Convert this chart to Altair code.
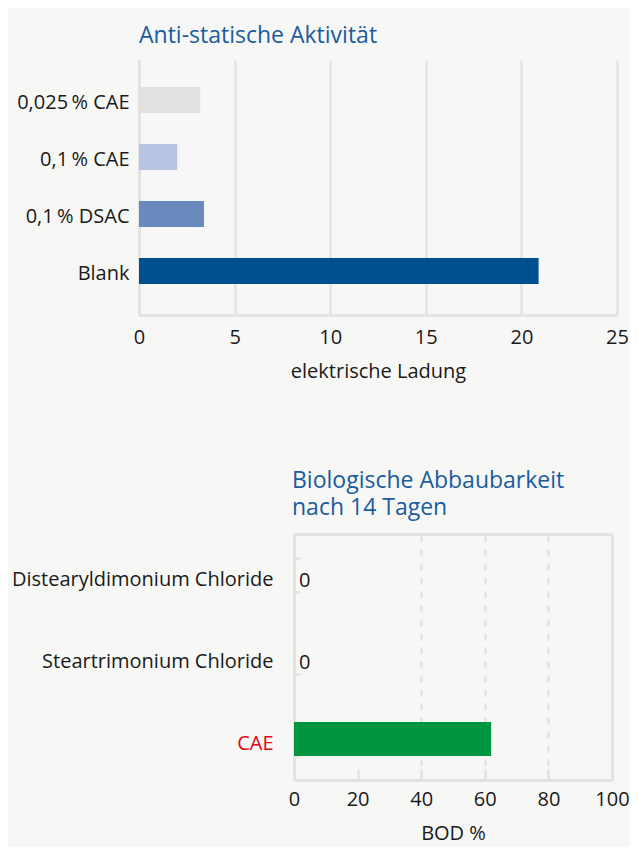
import altair as alt
import pandas as pd

# ---- data: chart 1 ----
cats1 = ["0,025\u2009% CAE", "0,1\u2009% CAE", "0,1\u2009% DSAC", "Blank"]
vals1 = [3.2, 2.0, 3.4, 20.9]
colors1 = ["#e1e1df", "#b8c4e1", "#6a8abe", "#004f91"]
ticks1 = [0, 5, 10, 15, 20, 25]

# ---- data: chart 2 ----
cats2 = ["Distearyldimonium Chloride", "Steartrimonium Chloride", "CAE"]
vals2 = [0, 0, 62]
ticks2 = [0, 20, 40, 60, 80, 100]

FONT = "Open Sans"
BLUE_T = "#1a5c9e"
GRID = "#e3e3e1"
TXT = "#1a1a1a"
GREEN = "#009640"
RED = "#e30613"
FS = 20

# bottom panel: plot region shares the top panel's left edge; the data range starts further right
X0 = 155
W2 = 473

df1 = pd.DataFrame({"cat": cats1, "val": vals1})
df2 = pd.DataFrame({"cat": cats2, "val": vals2})

top = alt.Chart(df1).mark_bar().encode(
    x=alt.X("val:Q", scale=alt.Scale(domain=[0, 25], nice=False),
            axis=alt.Axis(values=ticks1, title="elektrische Ladung", grid=True,
                          gridColor=GRID, gridWidth=2.5, domainColor=GRID, domainWidth=3,
                          ticks=False, tickSize=0, labelPadding=12, titlePadding=14,
                          labelFlush=False, labelFontSize=FS, titleFontSize=FS,
                          titleFontWeight="normal", labelColor=TXT, titleColor=TXT)),
    y=alt.Y("cat:N", sort=cats1,
            scale=alt.Scale(paddingInner=0.544, paddingOuter=0.509, align=0.466),
            axis=alt.Axis(title=None, domainColor=GRID, domainWidth=3, ticks=False,
                          tickSize=0, labelPadding=10, labelFontSize=FS, labelColor=TXT,
                          labelLimit=400, labelOffset=3)),
    color=alt.Color("cat:N", scale=alt.Scale(domain=cats1, range=colors1), legend=None),
).properties(
    width=478, height=255,
    title=alt.TitleParams("Anti-statische Aktivität", anchor="start", frame="group",
                          fontSize=23, fontWeight="normal", color=BLUE_T, offset=12),
)

xs2 = alt.Scale(domain=[0, 100], nice=False, range=[X0, W2])
ys2 = alt.Scale(paddingInner=0.585, paddingOuter=0.2925)

bars2 = alt.Chart(df2).mark_bar(color=GREEN).encode(
    x=alt.X("val:Q", scale=xs2,
            axis=alt.Axis(values=ticks2, title="BOD %", grid=True, gridColor=GRID,
                          gridWidth=2.5, gridDash=[7, 7],
                          gridOpacity={"condition": {"test": "datum.value === 20", "value": 0}, "value": 1},
                          domain=True, domainColor=GRID, domainWidth=3,
                          ticks=False, tickSize=0, labelPadding=9,
                          titlePadding=14, labelFlush=False, labelFontSize=FS,
                          titleFontSize=FS, titleFontWeight="normal",
                          labelColor=TXT, titleColor=TXT)),
    y=alt.Y("cat:N", sort=cats2, scale=ys2,
            axis=alt.Axis(title=None, domain=True, domainColor=GRID, domainWidth=3,
                          ticks=False, tickSize=0, offset=-X0, labelOffset=5,
                          labelPadding=21, labelFontSize=FS, labelLimit=400,
                          labelColor={"condition": {"test": "datum.value === 'CAE'", "value": RED}, "value": TXT})),
)

text2 = alt.Chart(df2).transform_filter("datum.val === 0").mark_text(
    align="left", baseline="middle", dx=5, dy=6, fontSize=FS, color=TXT, font=FONT
).encode(
    x=alt.X("val:Q", scale=xs2,
            axis=alt.Axis(orient="bottom", offset=-11, tickSize=11, tickWidth=2.5,
                          tickColor=GRID, labels=False, domain=False, grid=False,
                          title=None, values=ticks2)),
    y=alt.Y("cat:N", sort=cats2, scale=ys2,
            axis=alt.Axis(orient="left", offset=-(X0 + 6), tickSize=6, tickWidth=2.5,
                          tickColor=GRID, labels=False, domain=False, grid=False,
                          title=None, tickBand="extent")),
    text=alt.Text("val:Q"),
)

frame2 = alt.Chart(df2).mark_bar(opacity=0).encode(
    x=alt.X("val:Q", scale=xs2,
            axis=alt.Axis(orient="top", labels=False, ticks=False, grid=False, title=None,
                          domain=True, domainColor=GRID, domainWidth=3)),
    y=alt.Y("cat:N", sort=cats2, scale=ys2,
            axis=alt.Axis(orient="right", labels=False, ticks=False, grid=False, title=None,
                          domain=True, domainColor=GRID, domainWidth=3)),
)

bottom = alt.layer(bars2, text2, frame2).resolve_axis(x="independent", y="independent").properties(
    width=W2, height=246,
    title=alt.TitleParams(["Biologische Abbaubarkeit", "nach 14 Tagen"], anchor="start",
                          frame="group", fontSize=23, fontWeight="normal", color=BLUE_T,
                          offset=14, lineHeight=27, dx=X0 - 2),
)

chart = alt.vconcat(top, bottom, spacing=89).properties(
    padding={"left": 3, "top": 17, "right": 0, "bottom": 4},
    background="#f7f7f5",
).configure(font=FONT).configure_view(strokeWidth=0)

chart.save("out.html", embed_options={"renderer": "svg", "actions": False})
